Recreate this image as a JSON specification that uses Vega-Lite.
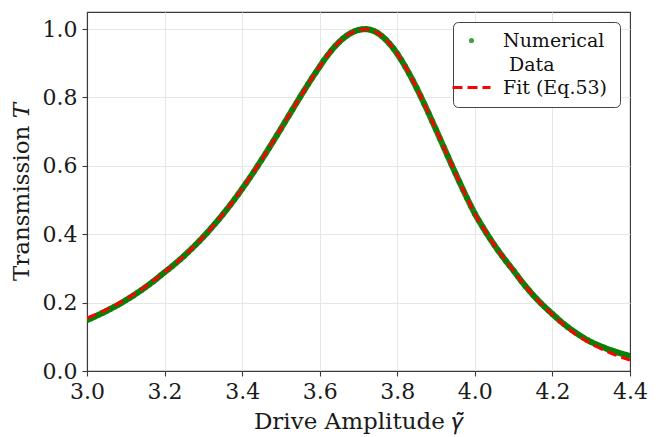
{
  "$schema": "https://vega.github.io/schema/vega-lite/v6.json",
  "autosize": {"type": "none"},
  "width": 543,
  "height": 359,
  "padding": {"left": 87, "top": 12, "right": 29, "bottom": 66},
  "background": "white",
  "config": {
    "font": "DejaVu Serif",
    "view": {"stroke": "#3a3a3a", "strokeWidth": 1.1},
    "style": {"guide-label": {"lineHeight": 24}},
    "axis": {
      "labelFont": "DejaVu Serif", "labelFontSize": 22, "labelColor": "#1a1a1a",
      "titleFont": "DejaVu Serif", "titleFontSize": 23, "titleFontWeight": "normal", "titleColor": "#1a1a1a",
      "gridWidth": 1, "domain": true, "domainColor": "#3a3a3a", "domainWidth": 1.1,
      "tickColor": "#3a3a3a", "tickSize": 5, "tickWidth": 1.1
    }
  },
  "data": {"values": [
    {"g":3.00,"num":0.1490,"fit":0.1550},{"g":3.01,"num":0.1539,"fit":0.1596},{"g":3.02,"num":0.1590,"fit":0.1644},
    {"g":3.03,"num":0.1643,"fit":0.1694},{"g":3.04,"num":0.1698,"fit":0.1746},{"g":3.05,"num":0.1754,"fit":0.1799},
    {"g":3.06,"num":0.1813,"fit":0.1855},{"g":3.07,"num":0.1874,"fit":0.1913},{"g":3.08,"num":0.1936,"fit":0.1972},
    {"g":3.09,"num":0.2002,"fit":0.2035},{"g":3.10,"num":0.2069,"fit":0.2099},{"g":3.11,"num":0.2139,"fit":0.2167},
    {"g":3.12,"num":0.2211,"fit":0.2237},{"g":3.13,"num":0.2287,"fit":0.2311},{"g":3.14,"num":0.2364,"fit":0.2386},
    {"g":3.15,"num":0.2444,"fit":0.2464},{"g":3.16,"num":0.2528,"fit":0.2546},{"g":3.17,"num":0.2614,"fit":0.2630},
    {"g":3.18,"num":0.2703,"fit":0.2717},{"g":3.19,"num":0.2795,"fit":0.2807},{"g":3.20,"num":0.2887,"fit":0.2897},
    {"g":3.21,"num":0.2976,"fit":0.2984},{"g":3.22,"num":0.3068,"fit":0.3074},{"g":3.23,"num":0.3164,"fit":0.3168},
    {"g":3.24,"num":0.3262,"fit":0.3264},{"g":3.25,"num":0.3363,"fit":0.3363},{"g":3.26,"num":0.3469,"fit":0.3469},
    {"g":3.27,"num":0.3577,"fit":0.3577},{"g":3.28,"num":0.3689,"fit":0.3689},{"g":3.29,"num":0.3804,"fit":0.3804},
    {"g":3.30,"num":0.3924,"fit":0.3924},{"g":3.31,"num":0.4047,"fit":0.4047},{"g":3.32,"num":0.4174,"fit":0.4174},
    {"g":3.33,"num":0.4305,"fit":0.4305},{"g":3.34,"num":0.4439,"fit":0.4439},{"g":3.35,"num":0.4577,"fit":0.4577},
    {"g":3.36,"num":0.4721,"fit":0.4721},{"g":3.37,"num":0.4866,"fit":0.4866},{"g":3.38,"num":0.5017,"fit":0.5017},
    {"g":3.39,"num":0.5171,"fit":0.5171},{"g":3.40,"num":0.5329,"fit":0.5329},{"g":3.41,"num":0.5491,"fit":0.5491},
    {"g":3.42,"num":0.5656,"fit":0.5656},{"g":3.43,"num":0.5825,"fit":0.5825},{"g":3.44,"num":0.5998,"fit":0.5998},
    {"g":3.45,"num":0.6173,"fit":0.6173},{"g":3.46,"num":0.6352,"fit":0.6352},{"g":3.47,"num":0.6532,"fit":0.6532},
    {"g":3.48,"num":0.6715,"fit":0.6715},{"g":3.49,"num":0.6900,"fit":0.6900},{"g":3.50,"num":0.7087,"fit":0.7087},
    {"g":3.51,"num":0.7274,"fit":0.7274},{"g":3.52,"num":0.7463,"fit":0.7463},{"g":3.53,"num":0.7651,"fit":0.7651},
    {"g":3.54,"num":0.7838,"fit":0.7838},{"g":3.55,"num":0.8023,"fit":0.8023},{"g":3.56,"num":0.8207,"fit":0.8207},
    {"g":3.57,"num":0.8387,"fit":0.8387},{"g":3.58,"num":0.8563,"fit":0.8563},{"g":3.59,"num":0.8734,"fit":0.8734},
    {"g":3.60,"num":0.8904,"fit":0.8904},{"g":3.61,"num":0.9072,"fit":0.9072},{"g":3.62,"num":0.9228,"fit":0.9228},
    {"g":3.63,"num":0.9373,"fit":0.9373},{"g":3.64,"num":0.9504,"fit":0.9504},{"g":3.65,"num":0.9621,"fit":0.9621},
    {"g":3.66,"num":0.9724,"fit":0.9724},{"g":3.67,"num":0.9811,"fit":0.9811},{"g":3.68,"num":0.9883,"fit":0.9883},
    {"g":3.69,"num":0.9937,"fit":0.9937},{"g":3.70,"num":0.9975,"fit":0.9975},{"g":3.71,"num":0.9996,"fit":0.9996},
    {"g":3.72,"num":0.9999,"fit":0.9999},{"g":3.73,"num":0.9981,"fit":0.9981},{"g":3.74,"num":0.9942,"fit":0.9942},
    {"g":3.75,"num":0.9881,"fit":0.9881},{"g":3.76,"num":0.9799,"fit":0.9799},{"g":3.77,"num":0.9696,"fit":0.9696},
    {"g":3.78,"num":0.9574,"fit":0.9574},{"g":3.79,"num":0.9434,"fit":0.9434},{"g":3.80,"num":0.9277,"fit":0.9277},
    {"g":3.81,"num":0.9103,"fit":0.9103},{"g":3.82,"num":0.8915,"fit":0.8915},{"g":3.83,"num":0.8713,"fit":0.8713},
    {"g":3.84,"num":0.8500,"fit":0.8500},{"g":3.85,"num":0.8276,"fit":0.8276},{"g":3.86,"num":0.8044,"fit":0.8044},
    {"g":3.87,"num":0.7804,"fit":0.7804},{"g":3.88,"num":0.7558,"fit":0.7558},{"g":3.89,"num":0.7308,"fit":0.7308},
    {"g":3.90,"num":0.7055,"fit":0.7055},{"g":3.91,"num":0.6800,"fit":0.6800},{"g":3.92,"num":0.6544,"fit":0.6544},
    {"g":3.93,"num":0.6289,"fit":0.6289},{"g":3.94,"num":0.6035,"fit":0.6035},{"g":3.95,"num":0.5784,"fit":0.5784},
    {"g":3.96,"num":0.5536,"fit":0.5536},{"g":3.97,"num":0.5293,"fit":0.5293},{"g":3.98,"num":0.5054,"fit":0.5054},
    {"g":3.99,"num":0.4821,"fit":0.4821},{"g":4.00,"num":0.4601,"fit":0.4601},{"g":4.01,"num":0.4405,"fit":0.4405},
    {"g":4.02,"num":0.4216,"fit":0.4216},{"g":4.03,"num":0.4033,"fit":0.4033},{"g":4.04,"num":0.3858,"fit":0.3858},
    {"g":4.05,"num":0.3688,"fit":0.3688},{"g":4.06,"num":0.3526,"fit":0.3526},{"g":4.07,"num":0.3370,"fit":0.3370},
    {"g":4.08,"num":0.3220,"fit":0.3220},{"g":4.09,"num":0.3076,"fit":0.3076},{"g":4.10,"num":0.2932,"fit":0.2932},
    {"g":4.11,"num":0.2778,"fit":0.2778},{"g":4.12,"num":0.2630,"fit":0.2630},{"g":4.13,"num":0.2489,"fit":0.2489},
    {"g":4.14,"num":0.2354,"fit":0.2354},{"g":4.15,"num":0.2226,"fit":0.2226},{"g":4.16,"num":0.2103,"fit":0.2099},
    {"g":4.17,"num":0.1987,"fit":0.1979},{"g":4.18,"num":0.1876,"fit":0.1864},{"g":4.19,"num":0.1771,"fit":0.1755},
    {"g":4.20,"num":0.1668,"fit":0.1648},{"g":4.21,"num":0.1563,"fit":0.1540},{"g":4.22,"num":0.1463,"fit":0.1437},
    {"g":4.23,"num":0.1369,"fit":0.1340},{"g":4.24,"num":0.1281,"fit":0.1249},{"g":4.25,"num":0.1197,"fit":0.1162},
    {"g":4.26,"num":0.1118,"fit":0.1080},{"g":4.27,"num":0.1043,"fit":0.1002},{"g":4.28,"num":0.0973,"fit":0.0929},
    {"g":4.29,"num":0.0907,"fit":0.0860},{"g":4.30,"num":0.0847,"fit":0.0797},{"g":4.31,"num":0.0794,"fit":0.0737},
    {"g":4.32,"num":0.0744,"fit":0.0680},{"g":4.33,"num":0.0697,"fit":0.0626},{"g":4.34,"num":0.0653,"fit":0.0575},
    {"g":4.35,"num":0.0611,"fit":0.0526},{"g":4.36,"num":0.0572,"fit":0.0480},{"g":4.37,"num":0.0535,"fit":0.0436},
    {"g":4.38,"num":0.0501,"fit":0.0395},{"g":4.39,"num":0.0469,"fit":0.0356},{"g":4.40,"num":0.0438,"fit":0.0318}
  ]},
  "encoding": {
    "x": {
      "field": "g", "type": "quantitative",
      "scale": {"domain": [3.0, 4.4], "nice": false, "zero": false},
      "axis": {
        "title": "Drive Amplitude 𝛾̃", "values": [3.0, 3.2, 3.4, 3.6, 3.8, 4.0, 4.2, 4.4], "format": ".1f",
        "labelPadding": 5, "titlePadding": 8, "labelFlush": false,
        "gridColor": {"condition": {"test": "datum.value <= 3.0001 || datum.value >= 4.3999", "value": "#3a3a3a"}, "value": "#e6e6e6"}
      }
    }
  },
  "layer": [
    {
      "mark": {"type": "line", "color": "#168616", "strokeWidth": 6, "clip": true},
      "encoding": {
        "y": {"field": "num", "type": "quantitative", "scale": {"domain": [0, 1.05], "nice": false},
          "axis": {
            "title": "Transmission 𝑇", "values": [0, 0.2, 0.4, 0.6, 0.8, 1.0], "format": ".1f",
            "labelPadding": 5, "titlePadding": 9,
            "gridColor": {"condition": {"test": "datum.value <= 0.0001", "value": "#3a3a3a"}, "value": "#e6e6e6"}
          }
        }
      }
    },
    {
      "mark": {"type": "point", "filled": true, "size": 34, "opacity": 0.7, "clip": true},
      "encoding": {
        "y": {"field": "num", "type": "quantitative"},
        "color": {
          "datum": "Numerical Data",
          "scale": {"domain": ["Numerical Data", "Fit (Eq.53)"], "range": ["#008000", "#ff0000"]},
          "legend": {
            "title": null, "orient": "top-right", "offset": 10,
            "fillColor": "white", "strokeColor": "#444444", "cornerRadius": 5, "padding": 9,
            "labelFont": "DejaVu Serif", "labelFontSize": 19, "labelColor": "#111111", "labelLimit": 300,
            "rowPadding": 3, "labelOffset": 22,
            "symbolType": {"expr": "datum.value == 'Fit (Eq.53)' ? 'stroke' : 'circle'"},
            "symbolSize": {"expr": "datum.value == 'Fit (Eq.53)' ? 1444 : 26"},
            "symbolStrokeWidth": {"expr": "datum.value == 'Fit (Eq.53)' ? 3 : 0"},
            "symbolDash": {"expr": "datum.value == 'Fit (Eq.53)' ? [10, 5] : [1, 0]"},
            "symbolOpacity": {"expr": "datum.value == 'Fit (Eq.53)' ? 1 : 0.75"},
            "labelExpr": "datum.label == 'Numerical Data' ? ['Numerical\u2009\u200b', '\u200b\u00a0Data'] : datum.label + '\u2009\u200b'"
          }
        }
      }
    },
    {
      "mark": {"type": "line", "strokeWidth": 3, "strokeDash": [10, 5], "clip": true},
      "encoding": {
        "y": {"field": "fit", "type": "quantitative"},
        "color": {"datum": "Fit (Eq.53)"}
      }
    }
  ]
}
